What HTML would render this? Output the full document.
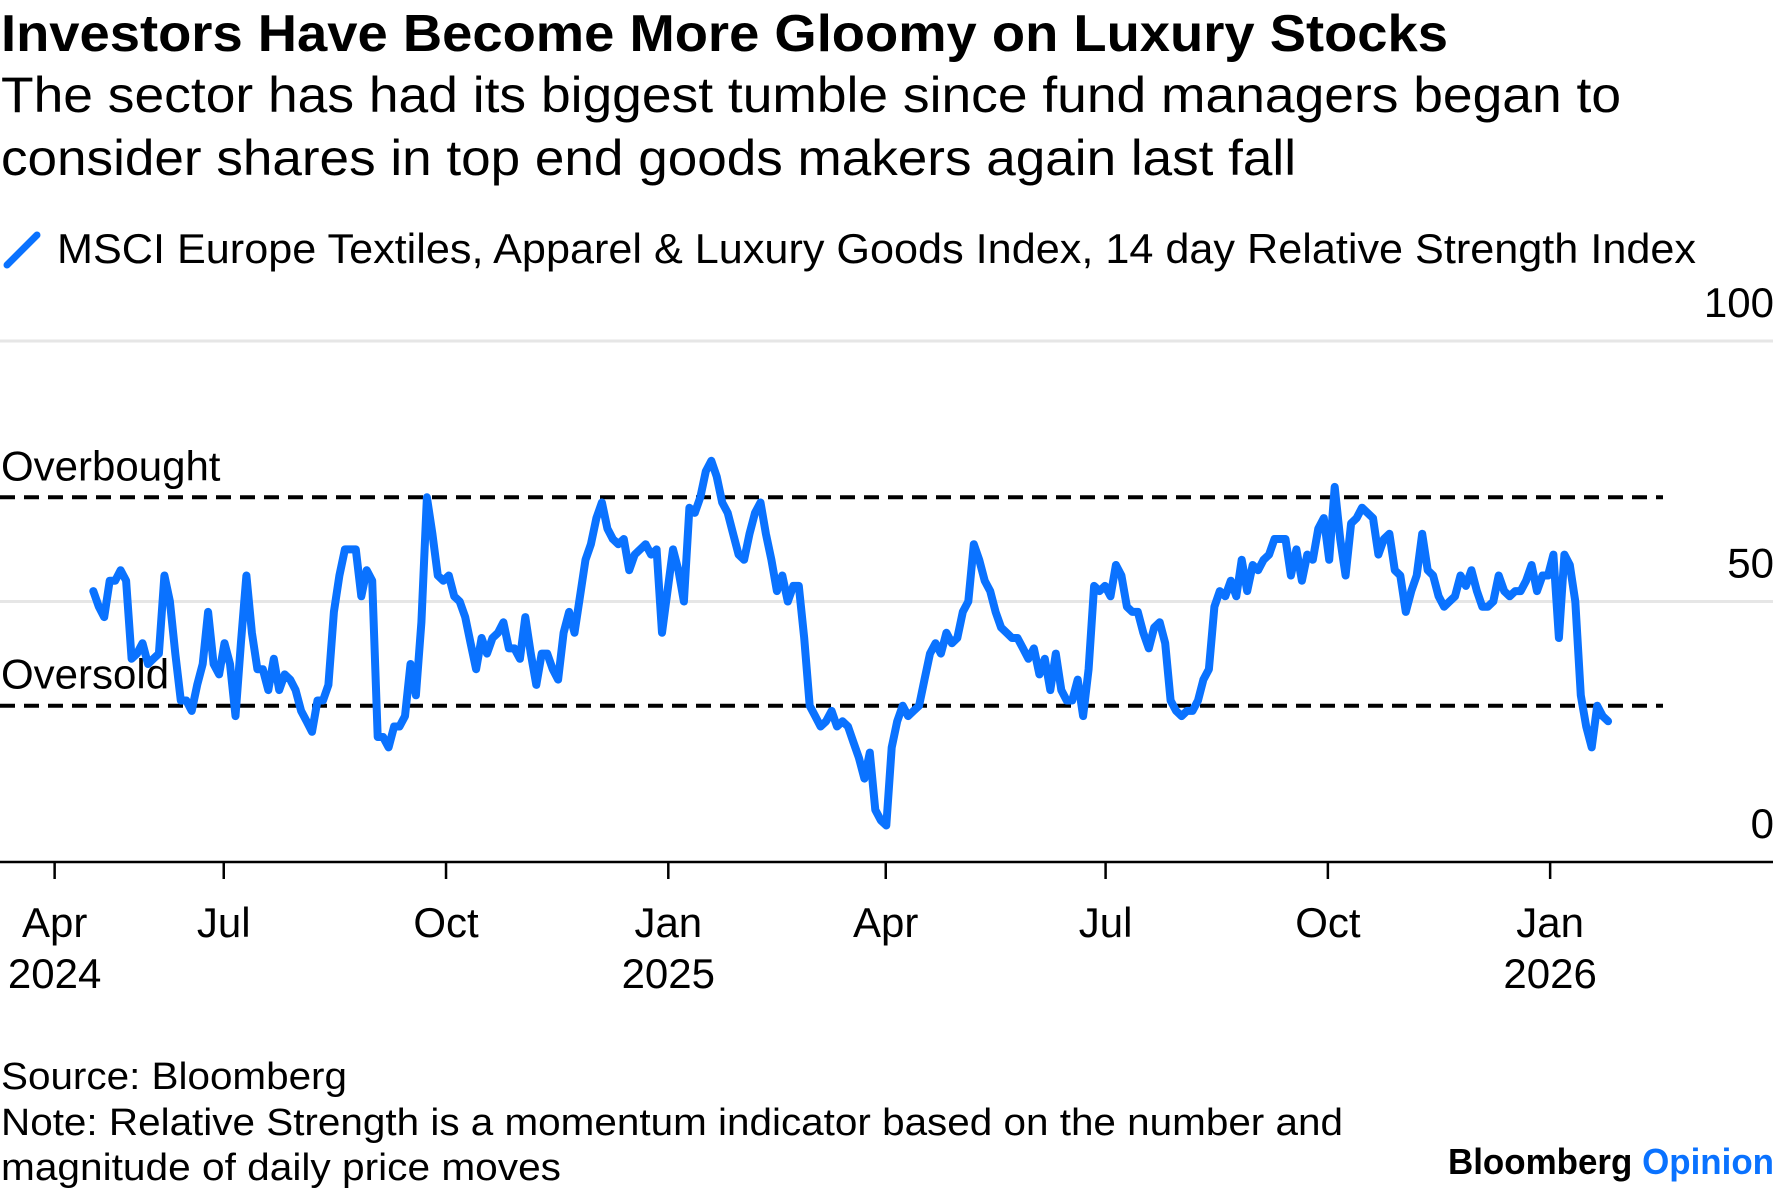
<!DOCTYPE html>
<html><head><meta charset="utf-8"><style>
html,body{margin:0;padding:0;background:#fff;}
svg{display:block;font-family:"Liberation Sans",Arial,sans-serif;}
</style></head><body>
<svg id="chart" width="1776" height="1191" viewBox="0 0 1776 1191" xmlns="http://www.w3.org/2000/svg">
<text x="1" y="51" font-size="52" font-weight="bold" fill="#000" textLength="1447" lengthAdjust="spacingAndGlyphs">Investors Have Become More Gloomy on Luxury Stocks</text>
<text x="1" y="112" font-size="50" fill="#000" textLength="1620" lengthAdjust="spacingAndGlyphs">The sector has had its biggest tumble since fund managers began to</text>
<text x="1" y="175" font-size="50" fill="#000" textLength="1295" lengthAdjust="spacingAndGlyphs">consider shares in top end goods makers again last fall</text>
<g>
<line x1="7" y1="265" x2="37" y2="235" stroke="#0a72ff" stroke-width="7" stroke-linecap="round"/>
<text x="57" y="263" font-size="42" fill="#000" textLength="1639" lengthAdjust="spacingAndGlyphs">MSCI Europe Textiles, Apparel &amp; Luxury Goods Index, 14 day Relative Strength Index</text>
</g>
<g id="grid"></g>
<g id="refs"></g>
<g id="series"></g>
<g id="xaxis"></g>
<text x="1" y="1089" font-size="38" fill="#000" textLength="346" lengthAdjust="spacingAndGlyphs">Source: Bloomberg</text>
<text x="1" y="1135" font-size="38" fill="#000" textLength="1342" lengthAdjust="spacingAndGlyphs">Note: Relative Strength is a momentum indicator based on the number and</text>
<text x="1" y="1180" font-size="38" fill="#000" textLength="560" lengthAdjust="spacingAndGlyphs">magnitude of daily price moves</text>
<text x="1774" y="1174" font-size="36" font-weight="bold" text-anchor="end" textLength="326" lengthAdjust="spacingAndGlyphs"><tspan fill="#000">Bloomberg </tspan><tspan fill="#0a72ff">Opinion</tspan></text>
</svg>
<script>
const startDate = "2024-05-08";
const endDate = "2026-01-25";
const rsiValues = [52,49,47,54,54,56,54,39,40,42,38,39,40,55,50,40,31,31,29,34,38,48,38,36,42,38,28,42,55,44,37,37,33,39,33,36,35,33,29,27,25,31,31,34,48,55,60,60,60,51,56,54,24,24,22,26,26,28,38,32,46,70,63,55,54,55,51,50,47,42,37,43,40,43,44,46,41,41,39,47,40,34,40,40,37,35,44,48,44,51,58,61,66,69,64,62,61,62,56,59,60,61,59,60,44,52,60,56,50,68,67,70,75,77,74,69,67,63,59,58,63,67,69,63,58,52,55,50,53,53,43,30,28,26,27,29,26,27,26,23,20,16,21,10,8,7,22,27,30,28,29,30,35,40,42,40,44,42,43,48,50,61,58,54,52,48,45,44,43,43,41,39,41,36,39,33,40,33,31,31,35,28,37,53,52,53,51,57,55,49,48,48,44,41,45,46,42,31,29,28,29,29,31,35,37,49,52,51,54,51,58,52,57,56,58,59,62,62,62,55,60,54,59,58,64,66,58,72,62,55,65,66,68,67,66,59,62,63,56,55,48,52,55,63,56,55,51,49,50,51,55,53,56,52,49,49,50,55,52,51,52,52,54,57,52,55,55,59,43,59,57,50,32,26,22,30,28,27];
const yTicks = [0,50,100];
const refLevels = [70,30];
const refLabels = ["Overbought","Oversold"];
const xTickDates = ["2024-04-22","2024-07-01","2024-10-01","2025-01-01","2025-04-01","2025-07-01","2025-10-01","2026-01-01"];
const xTickLabels1 = ["Apr","Jul","Oct","Jan","Apr","Jul","Oct","Jan"];
const xTickLabels2 = ["2024","","","2025","","","","2026"];

const NS="http://www.w3.org/2000/svg";
const origin=Date.UTC(2025,0,1), DAY=86400000;
function dayNum(s){const p=s.split("-").map(Number);return (Date.UTC(p[0],p[1]-1,p[2])-origin)/DAY;}
function xScale(d){return 668.3+d*2.416;}
function yScale(v){return 862-v*5.21;}
function mk(tag,attrs,parent){const e=document.createElementNS(NS,tag);for(const k in attrs)e.setAttribute(k,attrs[k]);parent.appendChild(e);return e;}

const grid=document.getElementById("grid");
yTicks.forEach(v=>{
  if(v>0){const g=mk("line",{x1:0,x2:1773,y1:yScale(v),y2:yScale(v),stroke:"#e6e6e6","stroke-width":3},grid);
  
  }
  const t=mk("text",{x:1774,y:yScale(v)-24,"font-size":42,"text-anchor":"end",fill:"#000"},grid);
  t.textContent=String(v);
  
  
});
const refs=document.getElementById("refs");
refLevels.forEach((v,i)=>{
  const l=mk("line",{x1:0,x2:1663,y1:yScale(v),y2:yScale(v),stroke:"#000","stroke-width":4,"stroke-dasharray":"15 9"},refs);
  
  
  const t=mk("text",{x:1,y:yScale(v)-17,"font-size":42,fill:"#000"},refs);
  t.textContent=refLabels[i];
  
  
});
const d0=dayNum(startDate), d1=dayNum(endDate), n=rsiValues.length;
const pts=rsiValues.map((v,i)=>{const d=d0+(d1-d0)*i/(n-1);return xScale(d).toFixed(1)+","+yScale(v).toFixed(1);});
const line=mk("polyline",{points:pts.join(" "),fill:"none",stroke:"#0a72ff","stroke-width":8,"stroke-linejoin":"round","stroke-linecap":"round"},document.getElementById("series"));



const xa=document.getElementById("xaxis");
const ax=mk("line",{x1:0,x2:1773,y1:862,y2:862,stroke:"#000","stroke-width":2.5},xa);


xTickDates.forEach((ds,i)=>{
  const x=xScale(dayNum(ds));
  const tk=mk("line",{x1:x,x2:x,y1:862,y2:879,stroke:"#000","stroke-width":2.5},xa);
  
  
  const t=mk("text",{x:x,y:937,"font-size":42,"text-anchor":"middle",fill:"#000"},xa);
  t.textContent=xTickLabels1[i];
  
  
  if(xTickLabels2[i]){
    const t2=mk("text",{x:x,y:988,"font-size":42,"text-anchor":"middle",fill:"#000"},xa);
    t2.textContent=xTickLabels2[i];
    
    
  }
});
</script>
</body></html>
